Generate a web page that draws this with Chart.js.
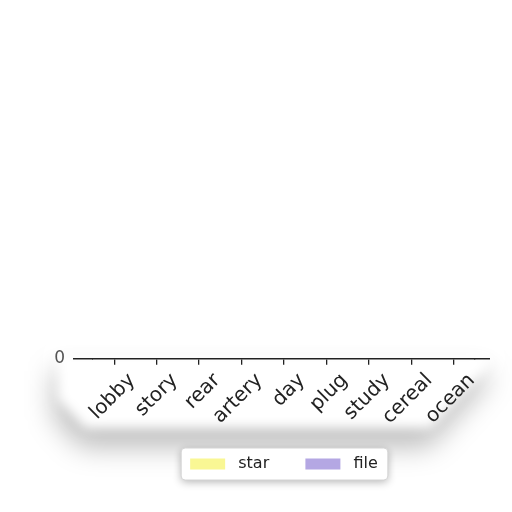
<!DOCTYPE html>
<html>
<head>
<meta charset="utf-8">
<script src="https://cdn.jsdelivr.net/npm/chart.js@4"></script>
<style>
  html, body { margin: 0; padding: 0; background: #fff; }
  #wrap { width: 512px; height: 512px; }
</style>
</head>
<body>
<div id="wrap"><canvas id="myChart"></canvas></div>
<script>
var categories = ["lobby", "story", "rear", "artery", "day", "plug", "study", "cereal", "ocean"];
var starValues = [0, 0, 0, 0, 0, 0, 0, 0, 0];
var fileValues = [0, 0, 0, 0, 0, 0, 0, 0, 0];
var yTicks = [0];

function stripPath(ctx, a, dx, dy) {
  ctx.beginPath();
  ctx.moveTo(a.left - 36 + dx, a.bottom - 6 + dy);
  ctx.lineTo(a.right + 16 + dx, a.bottom - 6 + dy);
  ctx.lineTo(a.right + 16 + dx, a.bottom + 4 + dy);
  ctx.lineTo(a.right - 44 + dx, a.bottom + 70 + dy);
  ctx.lineTo(a.left - 8 + dx, a.bottom + 70 + dy);
  ctx.lineTo(a.left - 36 + dx, a.bottom + 40 + dy);
  ctx.closePath();
}

// soft drop shadow under the axis/label strip, framed legend, axis line run-out
var paperShadow = {
  id: 'paperShadow',
  beforeDraw: function (chart) {
    var ctx = chart.ctx, a = chart.chartArea;
    ctx.save();
    ctx.filter = 'blur(14px)';
    ctx.fillStyle = 'rgba(0,0,0,0.27)';
    stripPath(ctx, a, -3, 18);
    ctx.fill();
    ctx.filter = 'blur(6px)';
    ctx.fillStyle = '#fff';
    stripPath(ctx, a, 0, 0);
    ctx.fill();
    ctx.filter = 'none';
    ctx.restore();

    var boxes = chart.legend.legendHitBoxes;
    if (boxes && boxes.length) {
      var l = Math.min.apply(null, boxes.map(function (b) { return b.left; })) - 9;
      var r = Math.max.apply(null, boxes.map(function (b) { return b.left + b.width; })) + 10;
      var t = boxes[0].top - 8, h = boxes[0].height + 16;
      ctx.save();
      ctx.shadowColor = 'rgba(0,0,0,0.3)';
      ctx.shadowBlur = 8;
      ctx.shadowOffsetY = 2;
      ctx.fillStyle = '#fff';
      ctx.strokeStyle = '#d4d4d4';
      ctx.lineWidth = 1;
      ctx.beginPath();
      ctx.roundRect(l, t, r - l, h, 4);
      ctx.fill();
      ctx.shadowColor = 'transparent';
      ctx.stroke();
      ctx.restore();
    }
  },
  afterDraw: function (chart) {
    var ctx = chart.ctx, a = chart.chartArea;
    ctx.save();
    ctx.strokeStyle = '#222';
    ctx.lineWidth = 1.5;
    ctx.beginPath();
    ctx.moveTo(a.right - 1, a.bottom);
    ctx.lineTo(a.right + 15, a.bottom);
    ctx.stroke();
    ctx.restore();
  }
};

var ctx = document.getElementById("myChart").getContext('2d');
var myChart = new Chart(ctx, {
  type: 'bar',
  data: {
    labels: categories,
    datasets: [{
      label: 'star',
      backgroundColor: '#f9f794',
      borderWidth: 0,
      data: starValues
    }, {
      label: 'file',
      backgroundColor: '#b4a7e3',
      borderWidth: 0,
      data: fileValues
    }]
  },
  options: {
    responsive: true,
    maintainAspectRatio: false,
    animation: false,
    layout: { padding: { left: 45, right: 37, top: 10, bottom: 30 } },
    plugins: {
      tooltip: { enabled: false },
      legend: {
        position: 'bottom',
        fullSize: false,
        labels: {
          boxWidth: 35,
          boxHeight: 11,
          padding: 26,
          color: '#222',
          font: { family: 'DejaVu Sans', size: 16 },
          generateLabels: function (chart) {
            var n = chart.data.datasets.length;
            return chart.data.datasets.map(function (d, i) {
              return {
                text: ' ' + d.label + (i < n - 1 ? '  ' : ''),
                fillStyle: d.backgroundColor,
                strokeStyle: d.backgroundColor,
                lineWidth: 0,
                fontColor: '#222',
                datasetIndex: i
              };
            });
          }
        }
      }
    },
    scales: {
      x: {
        offset: true,
        afterFit: function (s) { s.height -= 3; },
        grid: { display: true, drawOnChartArea: false, drawTicks: true, tickLength: 6, color: '#222', lineWidth: 1.3, offset: false },
        border: { display: true, color: '#222', width: 1.5 },
        ticks: {
          autoSkip: false,
          minRotation: 45,
          maxRotation: 45,
          labelOffset: 18,
          padding: 4,
          color: '#222',
          font: { family: 'DejaVu Sans', size: 20 }
        }
      },
      y: {
        min: 0,
        max: 1,
        afterBuildTicks: function (s) {
          s.ticks = yTicks.map(function (v) { return { value: v }; });
        },
        afterFit: function (s) { s.width = 48; },
        grid: { display: true, drawOnChartArea: false, drawTicks: true, tickLength: 20, color: '#222', lineWidth: 1.5 },
        border: { display: false },
        ticks: {
          padding: 8,
          color: '#555',
          font: { family: 'DejaVu Sans', size: 17 }
        }
      }
    }
  },
  plugins: [paperShadow]
});
</script>
</body>
</html>
